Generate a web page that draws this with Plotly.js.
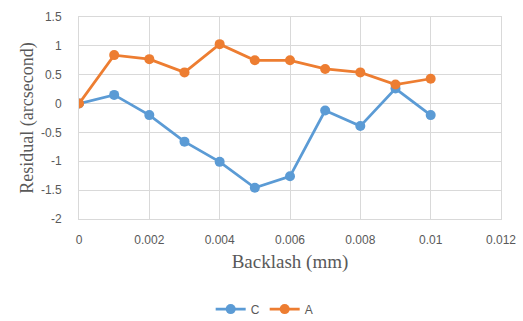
<!DOCTYPE html>
<html><head><meta charset="utf-8">
<script src="https://cdn.plot.ly/plotly-3.0.1.min.js"></script>
<style>body{margin:0;background:#fff}#c{width:523px;height:321px}</style>
</head><body><div id="c"></div>
<script>
const backlash = [0, 0.001, 0.002, 0.003, 0.004, 0.005, 0.006, 0.007, 0.008, 0.009, 0.01];
const seriesC = [0, 0.15, -0.2, -0.66, -1.01, -1.46, -1.26, -0.12, -0.39, 0.26, -0.2];
const seriesA = [0, 0.84, 0.77, 0.54, 1.03, 0.75, 0.75, 0.60, 0.54, 0.33, 0.43];
const xTickVals = [0, 0.002, 0.004, 0.006, 0.008, 0.01, 0.012];
const xTickText = ["0", "0.002", "0.004", "0.006", "0.008", "0.01", "0.012"];
const yTickVals = [1.5, 1, 0.5, 0, -0.5, -1, -1.5, -2];
const yTickText = ["1.5", "1", "0.5", "0", "-0.5", "-1", "-1.5", "-2"];

const mk = (name, y, color) => ({
  x: backlash, y: y, name: name, type: 'scatter', mode: 'lines+markers',
  line: {color: color, width: 2.75}, marker: {color: color, size: 10}
});
const data = [mk('C', seriesC, '#5b9bd5'), mk('A', seriesA, '#ed7d31')];
const tickFont = {family: 'Liberation Sans, Arial, sans-serif', size: 12, color: '#595959'};
const titleFont = {family: 'Liberation Serif, Times New Roman, serif', size: 19, color: '#595959'};
const layout = {
  width: 523, height: 321,
  margin: {l: 79, r: 22, t: 17, b: 102},
  paper_bgcolor: '#fff', plot_bgcolor: '#fff',
  showlegend: true,
  legend: {orientation: 'h', x: 0.44, xanchor: 'center', yref: 'container', y: 0.037, yanchor: 'middle',
    font: {family: 'Liberation Sans, Arial, sans-serif', size: 12, color: '#595959'}},
  xaxis: {range: [0, 0.012], tickvals: xTickVals, ticktext: xTickText, tickfont: tickFont,
    automargin: false,
    showgrid: true, gridcolor: '#d9d9d9', gridwidth: 1, zeroline: false,
    showline: true, linecolor: '#d9d9d9', mirror: true, ticks: '', ticklabelstandoff: 10,
    title: {text: 'Backlash (mm)', font: titleFont, standoff: 8}},
  yaxis: {range: [-2, 1.5], tickvals: yTickVals, ticktext: yTickText, tickfont: tickFont,
    automargin: false,
    showgrid: true, gridcolor: '#d9d9d9', gridwidth: 1, zeroline: false,
    showline: true, linecolor: '#d9d9d9', mirror: true, ticks: '', ticklabelstandoff: 14,
    title: {text: 'Residual (arcsecond)', font: Object.assign({}, titleFont, {size: 18}), standoff: 2}}
};
Plotly.newPlot('c', data, layout, {displayModeBar: false, staticPlot: true});
</script></body></html>
